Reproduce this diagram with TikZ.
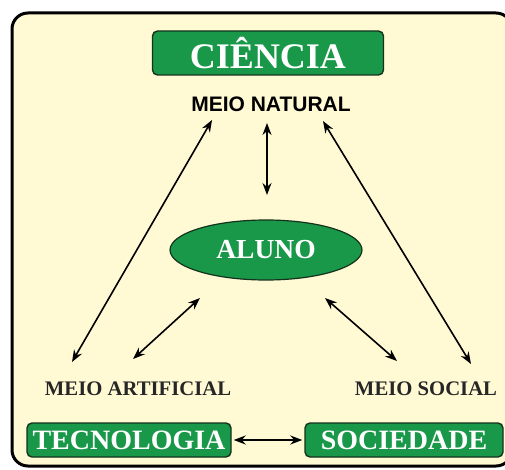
\documentclass[tikz,border=0pt]{standalone}
\usepackage{fontspec}
\setmainfont{Liberation Serif}
\newfontfamily\arialfont{Liberation Sans}
\usetikzlibrary{arrows.meta,shapes.geometric}
\definecolor{cream}{RGB}{255,250,212}
\definecolor{gbox}{RGB}{24,152,72}
\definecolor{gedge}{RGB}{20,50,28}
\tikzset{
  greenbox/.style={draw=gedge, line width=1.4pt, fill=gbox, rounded corners=5pt, text=white, font=\bfseries\fontsize{28}{28}\selectfont, inner sep=0pt, minimum height=34pt},
  dblarrow/.style={line width=1.6pt, {Stealth[length=12pt,width=9pt]}-{Stealth[length=12pt,width=9pt]}},
  meiolbl/.style={font=\bfseries\fontsize{20.7}{21}\selectfont, text=black!85, inner sep=0pt}
}
\begin{document}
\begin{tikzpicture}[x=1pt,y=-1pt]
\useasboundingbox (0,0) rectangle (505,470);
\clip (0,0) rectangle (505,470);
\fill[white] (0,0) rectangle (505,470);
\draw[line width=3pt, fill=cream, rounded corners=16pt] (12,13) rectangle (512,466);

\node[greenbox, minimum width=231pt, minimum height=44pt, font=\bfseries\fontsize{36}{36}\selectfont] (ciencia) at (268,53) {CIÊNCIA};
\node[font=\arialfont\bfseries\fontsize{21}{21}\selectfont, inner sep=0pt] (natural) at (271,104) {MEIO NATURAL};
\node[ellipse, draw=gedge, line width=1.2pt, fill=gbox, minimum width=192pt, minimum height=60pt, inner sep=0pt, text=white, font=\bfseries\fontsize{27.5}{28}\selectfont] (aluno) at (266,250) {ALUNO};
\node[meiolbl] (artificial) at (138,389) {MEIO ARTIFICIAL};
\node[meiolbl] (social) at (426,389) {MEIO SOCIAL};
\node[greenbox, minimum width=204pt] (tecnologia) at (129,440) {TECNOLOGIA};
\node[greenbox, minimum width=198pt] (sociedade) at (404,440) {SOCIEDADE};

\coordinate (nl) at (212,120);
\coordinate (nc) at (267,123);
\coordinate (nr) at (323,121);
\coordinate (ac) at (267,195);
\coordinate (al) at (200,298);
\coordinate (ar) at (325,298);
\coordinate (artl) at (72,362);
\coordinate (artr) at (133,359);
\coordinate (socl) at (397,361);
\coordinate (socr) at (471,364);

\draw[dblarrow] (nl) -- (artl);
\draw[dblarrow] (nr) -- (socr);
\draw[dblarrow] (nc) -- (ac);
\draw[dblarrow] (al) -- (artr);
\draw[dblarrow] (ar) -- (socl);
\draw[dblarrow, shorten <=2pt, shorten >=2pt] (tecnologia.east) -- (sociedade.west);
\end{tikzpicture}
\end{document}
